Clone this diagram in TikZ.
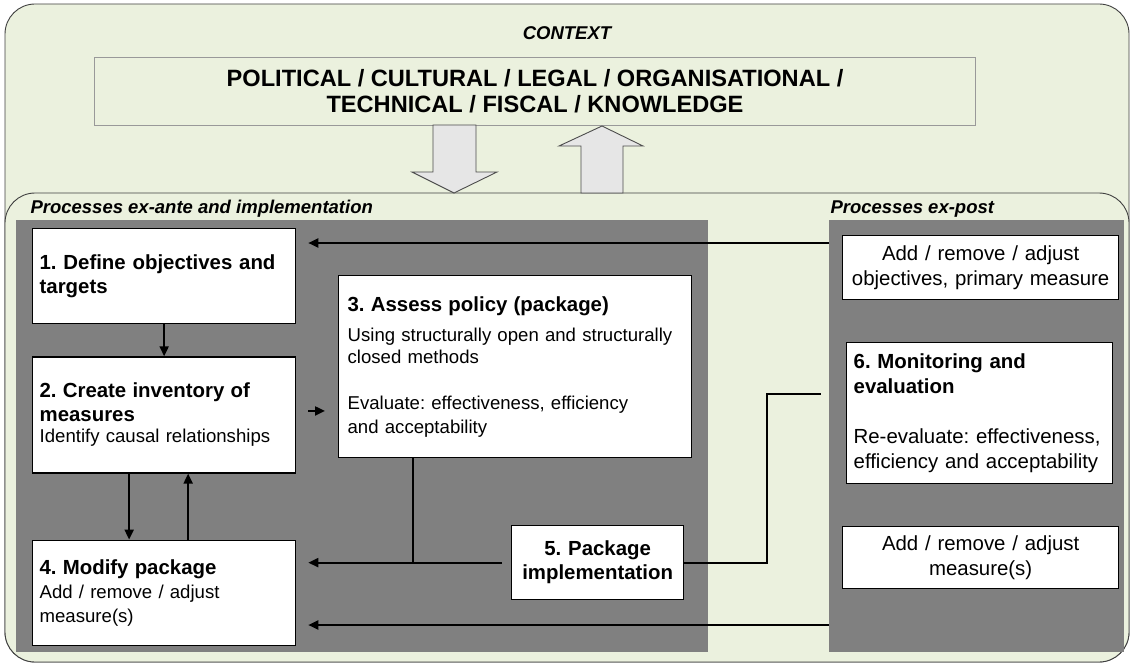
\documentclass[tikz,border=0pt]{standalone}
\usepackage{fontspec}
\setmainfont{Liberation Sans}
\usetikzlibrary{arrows.meta,calc,positioning}
\frenchspacing

\definecolor{ctxgreen}{RGB}{235,241,222}
\definecolor{panelgray}{RGB}{128,128,128}
\definecolor{arrowgray}{RGB}{230,230,230}

\newcommand{\bodyfont}{\fontsize{18.6pt}{24pt}\selectfont}
\newcommand{\bigfont}{\fontsize{20.4pt}{25pt}\selectfont}
\newcommand{\titlefont}{\fontsize{20.4pt}{24pt}\selectfont\bfseries}
\newcommand{\headfont}{\fontsize{18.5pt}{22pt}\selectfont\bfseries\itshape}

\begin{document}
\begin{tikzpicture}[
    x=1pt, y=-1pt,
    frame/.style={draw=black!75, line width=0.9pt, fill=ctxgreen, rounded corners=30pt},
    bigarrow/.style={draw=black!70, line width=0.9pt, fill=arrowgray},
    panel/.style={fill=panelgray, inner sep=0pt, outer sep=0pt, anchor=north west},
    stepbox/.style={draw, fill=white, line width=1.3pt, inner sep=7pt, anchor=north west,
                    align=left, font=\bodyfont},
    sidebox/.style={draw, fill=white, line width=1.3pt, inner sep=7pt, anchor=north west,
                    align=center, font=\bigfont},
    link/.style={line width=2pt},
    arrow/.style={line width=2pt, arrows={-Triangle[length=10pt, width=9pt]}}
]
\useasboundingbox (0,0) rectangle (1134,666);

% context frame
\draw[frame] (5,4) rectangle (1129,662);
\node[font=\headfont] (context) at (567,33) {CONTEXT};
\node[draw=black!40, line width=1pt, minimum width=881pt, minimum height=68pt, anchor=north west,
      align=center, font=\fontsize{23.6pt}{26pt}\selectfont\bfseries] (factors) at (94,57)
      {POLITICAL / CULTURAL / LEGAL / ORGANISATIONAL /\\ TECHNICAL / FISCAL / KNOWLEDGE};

% processes frame
\draw[frame] (5,193) rectangle (1129,662);

% influence in both directions
\draw[bigarrow] (433,125) -- (433,172) -- (412,172) -- (454,193) -- (497,172) -- (476,172) -- (476,125) -- cycle;
\draw[bigarrow] (581,193) -- (581,146) -- (559,146) -- (602,126) -- (643,146) -- (623,146) -- (623,193) -- cycle;

\node[font=\headfont, anchor=west] (exantelbl) at (27,209) {Processes ex-ante and implementation};
\node[font=\headfont, anchor=west] (expostlbl) at (827,209) {Processes ex-post};

\node[panel, minimum width=692pt, minimum height=432pt] (exante) at (16,220) {};
\node[panel, minimum width=295pt, minimum height=432pt] (expost) at (829,220) {};

% 1) Define objectives
\node[stepbox, text width=249pt, minimum height=95pt, font=\titlefont] (define) at (32,228)
    {1. Define objectives and\\ targets};

% 2) Inventory
\node[stepbox, text width=249pt, minimum height=116pt, below=32pt of define] (inventory)
    {{\titlefont 2. Create inventory of\\ measures}\\[-3pt] Identify causal relationships};
\draw[arrow] (define) -- (inventory);

% 4) Modify package
\node[stepbox, text width=249pt, minimum height=105pt, below=66pt of inventory] (modify)
    {{\titlefont 4. Modify package}\\ Add / remove / adjust\\ measure(s)};
\draw[arrow] ([xshift=-35pt]inventory.south) -- ([xshift=-35pt]modify.north);
\draw[arrow] ([xshift=24pt]modify.north) -- ([xshift=24pt]inventory.south);

% 3) Assess policy
\node[stepbox, inner sep=9pt, text width=335pt, minimum height=182pt] (assess) at (338,275)
    {{\titlefont 3. Assess policy (package)}\\[6pt] Using structurally open and structurally\\[-2pt]
     closed methods\\[22pt] Evaluate: effectiveness, efficiency\\ and acceptability};
\draw[arrow, shorten <=12pt, shorten >=13pt] ([yshift=4pt]inventory.east) -- ([yshift=4pt]inventory.east -| assess.west);

% 5) Implementation
\node[stepbox, align=center, text width=158pt, minimum height=74pt, font=\titlefont] (implement) at (511,525)
    {5. Package\\ implementation};
\coordinate (join) at ([xshift=-102pt]assess.south |- implement.west);
\draw[link] ([xshift=-102pt]assess.south) -- (join);
\draw[arrow, shorten <=9pt, shorten >=12pt] (implement.west) -- (implement.west -| modify.east);

% ex-post side
\node[sidebox, text width=262pt, minimum height=64pt] (adjustobj) at (842,235)
    {Add / remove / adjust\\ objectives, primary measure};
\node[stepbox, text width=252pt, minimum height=141pt, font=\bigfont] (monitor) at (846,342)
    {{\bfseries 6. Monitoring and\\ evaluation}\\[25pt] Re-evaluate: effectiveness,\\ efficiency and acceptability};
\node[sidebox, text width=262pt, minimum height=62pt] (adjustmeas) at (842,526)
    {Add / remove / adjust\\ measure(s)};

\coordinate (bend) at (767,394);
\draw[link, shorten >=25pt] (implement.east) -| (bend) -- (bend -| monitor.west);

% feedback
\coordinate (backobj) at (expost.west |- 0,243);
\coordinate (backmeas) at (expost.west |- 0,625);
\draw[arrow, shorten >=12pt] (backobj) -- (backobj -| define.east);
\draw[arrow, shorten >=12pt] (backmeas) -- (backmeas -| modify.east);
\end{tikzpicture}
\end{document}
